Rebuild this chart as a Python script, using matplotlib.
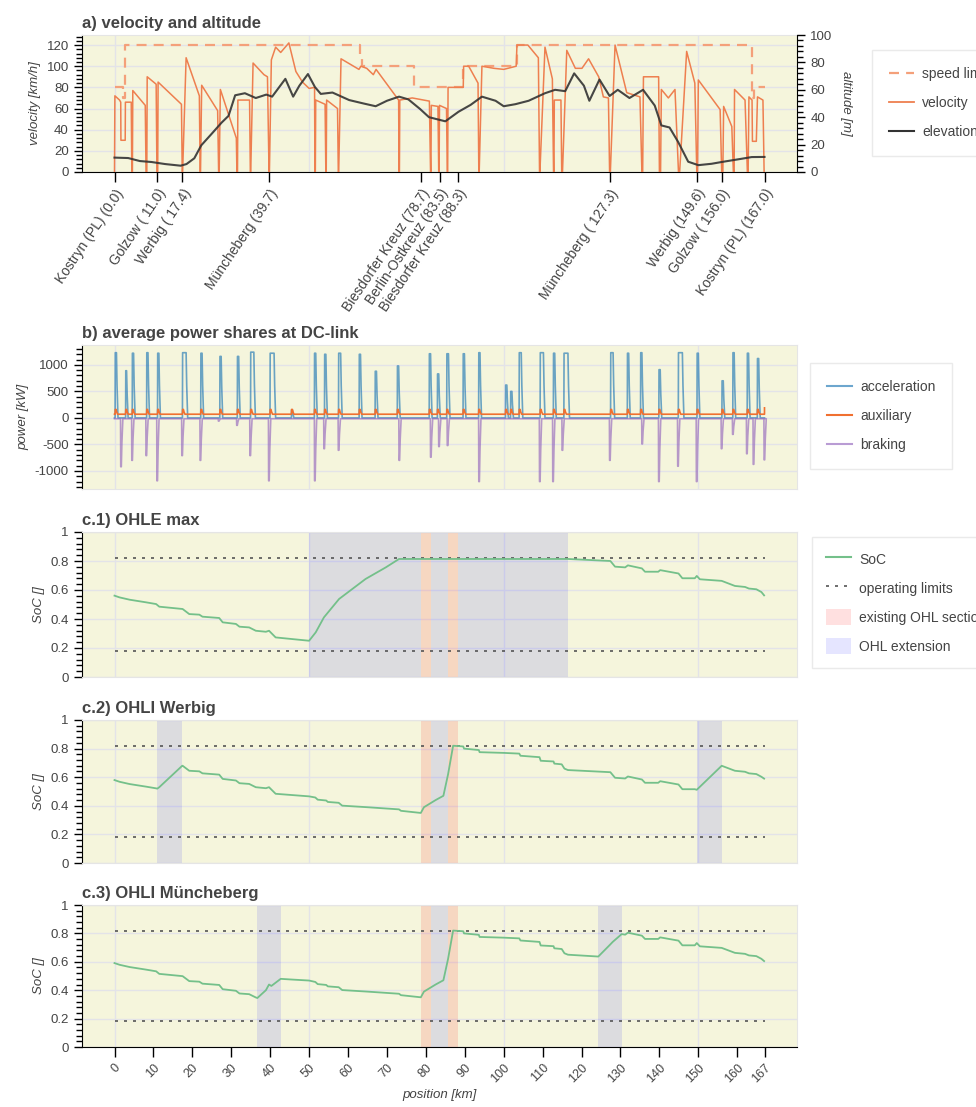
import numpy as np
import matplotlib.pyplot as plt
from matplotlib.ticker import AutoMinorLocator, MultipleLocator, FixedLocator
from matplotlib.patches import Patch
from matplotlib.lines import Line2D

plt.rcParams['font.family'] = ['Liberation Sans', 'DejaVu Sans']
plt.rcParams['axes.unicode_minus'] = False

# ---------------- data ----------------
station_km = [0.0, 11.0, 17.4, 39.7, 78.7, 83.5, 88.3, 127.3, 149.6, 156.0, 167.0]
station_names = ['Kostryn (PL) (0.0)', 'Golzow ( 11.0)', 'Werbig ( 17.4)', 'Müncheberg (39.7)',
                 'Biesdorfer Kreuz (78.7)', 'Berlin-Ostkreuz (83.5)', 'Biesdorfer Kreuz (88.3)',
                 'Müncheberg ( 127.3)', 'Werbig (149.6)', 'Golzow ( 156.0)', 'Kostryn (PL) (167.0)']

speed_limit = [(0, 80), (2.3, 80), (2.3, 70), (2.8, 70), (2.8, 120), (63.2, 120), (63.2, 110),
               (63.6, 110), (63.6, 100), (76.9, 100), (76.9, 80), (89.6, 80), (89.6, 100),
               (103.4, 100), (103.4, 120), (163.8, 120), (163.8, 70), (164.3, 70), (164.3, 80),
               (167, 80)]

velocity = [(0, 0), (0.1, 72), (1.3, 68), (1.6, 66), (1.65, 30), (2.75, 30), (2.8, 66), (4.3, 66), (4.45, 0),
            (4.6, 0), (4.7, 77), (7.9, 63), (8.1, 0),
            (8.3, 0), (8.4, 90), (10.7, 83), (10.9, 0),
            (11.1, 0), (11.2, 85), (17.2, 64), (17.4, 0),
            (17.5, 0), (18.4, 108), (21.8, 72), (22.0, 0),
            (22.1, 0), (22.4, 82), (26.5, 58), (26.75, 0),
            (26.9, 0), (27.2, 78), (31.3, 32), (31.45, 0),
            (31.6, 0), (31.7, 68), (34.7, 68), (34.9, 0),
            (35.0, 0), (35.6, 103), (38.4, 92), (39.3, 90), (39.7, 0),
            (39.8, 0), (40.3, 106), (41.4, 118), (42.7, 113), (44.8, 122), (46.6, 95),
            (48.3, 85), (50.0, 79), (51.4, 80), (51.5, 0),
            (51.6, 0), (51.7, 68), (54.1, 64), (54.3, 0),
            (54.4, 0), (54.5, 68), (57.3, 60), (57.5, 0),
            (57.6, 0), (58.2, 107), (62.8, 97), (63.3, 100), (64.8, 98), (66.5, 92), (67.2, 97),
            (73.0, 68), (73.1, 0),
            (73.2, 0), (73.3, 68), (76.5, 70), (80.9, 67), (81.2, 0),
            (81.3, 0), (81.4, 63), (83.1, 62), (83.3, 0),
            (83.4, 0), (83.5, 63), (85.3, 60), (85.5, 0),
            (85.6, 0), (85.7, 80), (89.6, 80), (89.7, 100), (91.0, 100), (93.4, 84), (93.6, 0),
            (93.7, 0), (94.4, 100), (97.5, 98), (100.0, 97), (103.2, 100), (103.4, 120), (106.2, 120),
            (108.9, 108), (109.2, 0),
            (109.3, 0), (110.6, 118), (112.5, 88), (112.8, 0),
            (112.9, 0), (113.0, 68), (114.7, 68), (114.9, 0),
            (115.1, 0), (116.2, 115), (118.4, 98), (120.1, 98), (121.8, 107), (124.4, 90),
            (125.6, 71), (126.9, 70), (127.2, 0),
            (127.4, 0), (128.6, 120), (131.6, 75), (135.0, 71), (135.5, 0),
            (135.7, 0), (135.9, 90), (139.8, 90), (140.0, 0),
            (140.3, 0), (140.5, 78), (142.3, 70), (144.0, 78), (144.9, 0),
            (145.2, 0), (147.0, 114), (149.1, 84), (149.6, 0),
            (149.8, 0), (150.0, 87), (155.6, 59), (156.0, 0),
            (156.3, 0), (156.5, 62), (158.6, 43), (159.0, 0),
            (159.2, 0), (159.3, 78), (162.0, 68), (162.6, 0),
            (162.8, 0), (163.0, 71), (163.8, 68), (163.9, 29), (164.9, 29), (165.2, 71),
            (166.6, 68), (166.9, 0)]

elevation = [(0, 10.5), (3.5, 10.2), (6.5, 8.0), (9.5, 7.3), (13.0, 5.8), (17.0, 4.6), (18.5, 5.8),
             (20.5, 10.0), (22.3, 19.5), (25.0, 28.0), (27.5, 36.0), (29.3, 41.0), (31.0, 56.0),
             (33.5, 57.5), (36.3, 54.0), (39.0, 56.5), (40.5, 55.0), (43.9, 68.0), (45.9, 55.0),
             (47.5, 63.0), (49.7, 71.5), (51.5, 62.0), (53.0, 57.0), (56.0, 58.0), (60.3, 52.5),
             (64.0, 50.0), (67.1, 48.0), (70.0, 52.0), (73.1, 55.0), (75.5, 53.0), (78.5, 46.0),
             (80.8, 40.0), (85.0, 37.0), (88.4, 44.0), (91.5, 49.0), (94.4, 55.0), (97.9, 52.0),
             (100.0, 48.0), (103.0, 49.5), (106.4, 52.0), (110.6, 57.5), (113.2, 60.0),
             (115.8, 59.0), (118.1, 72.0), (120.6, 63.0), (122.0, 52.0), (124.6, 67.5),
             (127.2, 55.5), (129.3, 60.0), (132.3, 54.0), (135.8, 60.0), (138.8, 48.5),
             (140.5, 34.0), (142.6, 32.5), (144.8, 22.0), (147.4, 7.5), (150.0, 5.0),
             (153.4, 6.0), (156.0, 7.3), (158.6, 8.5), (161.2, 9.7), (163.7, 10.9), (167.0, 11.0)]

# (position km, peak kW, plateau width km)
accel_peaks = [(0.2, 1230, 0.3), (2.9, 890, 0.2), (4.6, 1220, 0.3), (8.3, 1230, 0.3), (11.1, 1220, 0.3),
               (17.5, 1230, 0.9), (22.2, 1220, 0.3), (27.1, 1160, 0.3), (31.6, 1160, 0.3),
               (35.0, 1240, 0.8), (40.0, 1220, 1.0), (45.5, 150, 0.2), (51.4, 1220, 0.3),
               (54.0, 1200, 0.3), (57.6, 1220, 0.5), (62.9, 1200, 0.3), (67.0, 880, 0.3),
               (72.7, 980, 0.3), (80.9, 1210, 0.3), (83.0, 830, 0.3), (85.4, 1210, 0.4),
               (89.6, 1210, 0.3), (93.6, 1230, 0.3), (100.5, 620, 0.3), (101.8, 500, 0.3),
               (104.0, 1230, 0.5), (109.4, 1230, 0.8), (112.8, 1220, 0.3), (115.5, 1220, 1.0),
               (127.5, 1230, 0.6), (131.8, 1220, 0.3), (135.2, 1230, 0.3), (139.9, 910, 0.3),
               (144.9, 1230, 1.0), (149.7, 1220, 0.3), (156.1, 700, 0.3), (158.9, 1230, 0.3),
               (162.6, 1220, 0.3), (165.2, 1120, 0.3)]

brake_peaks = [(1.6, -920), (4.45, -800), (8.1, -710), (10.9, -1185), (17.3, -710), (22.0, -800),
               (26.7, -60), (31.4, -140), (34.8, -710), (39.6, -1185), (51.4, -1185), (53.8, -580),
               (57.5, -610), (73.1, -800), (81.2, -740), (83.3, -540), (85.5, -520), (93.6, -1200),
               (109.2, -1200), (112.6, -1200), (115.0, -610), (127.2, -800), (135.5, -490),
               (139.8, -1200), (144.7, -910), (149.5, -1200), (155.9, -580), (158.8, -310),
               (162.4, -675), (164.1, -875), (166.9, -790)]

aux_base = 70
aux_bump = 160

existing_ohl = [(78.7, 81.3), (85.7, 88.3)]
ohl_ext = {
    'c.1) OHLE max': [(50.0, 78.7), (81.3, 85.7), (88.3, 116.5)],
    'c.2) OHLI Werbig': [(11.0, 17.4), (81.3, 85.7), (149.6, 156.0)],
    'c.3) OHLI Müncheberg': [(36.7, 42.7), (81.3, 85.7), (124.3, 130.3)],
}

soc_max = [(0, 0.561), (1.3, 0.549), (3.9, 0.533), (8.1, 0.515), (10.7, 0.503), (11.5, 0.485),
           (17.5, 0.469), (19.2, 0.434), (21.8, 0.430), (22.6, 0.416), (26.9, 0.407), (27.8, 0.377),
           (31.2, 0.366), (32.1, 0.347), (34.6, 0.342), (36.3, 0.319), (38.9, 0.312), (39.7, 0.319),
           (41.4, 0.273), (50.0, 0.250), (51.7, 0.308), (53.8, 0.411), (57.7, 0.538), (64.5, 0.676),
           (69.7, 0.756), (73.1, 0.814), (116.5, 0.814), (127.4, 0.80), (128.6, 0.761),
           (131.2, 0.756), (131.9, 0.77), (135.5, 0.749), (136.3, 0.726), (139.7, 0.726),
           (140.2, 0.737), (144.9, 0.714), (145.9, 0.681), (149.1, 0.681), (149.6, 0.697),
           (150.4, 0.674), (156.0, 0.663), (159.4, 0.628), (162.0, 0.621), (163.0, 0.61),
           (164.9, 0.605), (166.2, 0.586), (166.9, 0.563)]

soc_werbig = [(0, 0.580), (1.3, 0.568), (3.9, 0.552), (8.1, 0.534), (10.7, 0.522), (11.0, 0.520),
              (11.5, 0.530), (17.4, 0.680), (17.5, 0.680), (19.2, 0.645), (21.8, 0.641), (22.6, 0.627),
              (26.9, 0.618), (27.8, 0.588), (31.2, 0.577), (32.1, 0.558), (34.6, 0.553), (36.3, 0.530),
              (38.9, 0.523), (39.7, 0.530), (41.4, 0.484), (50.0, 0.466), (51.6, 0.458), (52.2, 0.443),
              (54.4, 0.437), (54.8, 0.427), (57.6, 0.421), (58.5, 0.401), (65.0, 0.390), (73.1, 0.375),
              (73.6, 0.365), (78.7, 0.350), (79.5, 0.390), (81.3, 0.420), (82.5, 0.440), (84.5, 0.470),
              (85.7, 0.620), (87.0, 0.820), (89.6, 0.815), (89.8, 0.800), (93.6, 0.790), (93.8, 0.775),
              (100.0, 0.770), (104.0, 0.765), (104.3, 0.750), (109.2, 0.740), (109.5, 0.715),
              (112.8, 0.710), (113.0, 0.695), (114.9, 0.690), (115.6, 0.660), (116.5, 0.650),
              (127.4, 0.635), (128.6, 0.596), (131.2, 0.591), (131.9, 0.605), (135.5, 0.584),
              (136.3, 0.561), (139.7, 0.561), (140.2, 0.572), (144.9, 0.549), (145.9, 0.516),
              (149.1, 0.516), (149.6, 0.512), (156.0, 0.680), (159.4, 0.645), (162.0, 0.638),
              (163.0, 0.627), (164.9, 0.622), (166.2, 0.603), (166.9, 0.590)]

soc_muench = [(0, 0.591), (1.3, 0.579), (3.9, 0.563), (8.1, 0.545), (10.7, 0.533), (11.5, 0.515),
              (17.5, 0.499), (19.2, 0.464), (21.8, 0.460), (22.6, 0.446), (26.9, 0.437), (27.8, 0.407),
              (31.2, 0.396), (32.1, 0.377), (34.6, 0.372), (36.3, 0.349), (36.7, 0.345), (38.9, 0.400),
              (39.7, 0.440), (40.3, 0.430), (42.7, 0.480), (45.0, 0.476), (50.0, 0.468), (51.6, 0.458),
              (52.2, 0.443), (54.4, 0.437), (54.8, 0.427), (57.6, 0.421), (58.5, 0.401), (65.0, 0.390),
              (73.1, 0.375), (73.6, 0.365), (78.7, 0.350), (79.5, 0.390), (81.3, 0.420), (82.5, 0.440),
              (84.5, 0.470), (85.7, 0.620), (87.0, 0.820), (89.6, 0.815), (89.8, 0.800), (93.6, 0.790),
              (93.8, 0.775), (100.0, 0.770), (104.0, 0.765), (104.3, 0.750), (109.2, 0.740),
              (109.5, 0.715), (112.8, 0.710), (113.0, 0.695), (114.9, 0.690), (115.6, 0.660),
              (116.5, 0.650), (124.3, 0.637), (127.3, 0.720), (128.0, 0.740), (130.3, 0.795),
              (131.2, 0.791), (131.9, 0.805), (135.5, 0.784), (136.3, 0.761), (139.7, 0.761),
              (140.2, 0.772), (144.9, 0.749), (145.9, 0.716), (149.1, 0.716), (149.6, 0.732),
              (150.4, 0.709), (156.0, 0.698), (159.4, 0.663), (162.0, 0.656), (163.0, 0.645),
              (164.9, 0.640), (166.2, 0.621), (166.9, 0.605)]

soc_limits = [0.18, 0.82]
pos_ticks = [0, 10, 20, 30, 40, 50, 60, 70, 80, 90, 100, 110, 120, 130, 140, 150, 160, 167]

# ---------------- style ----------------
BG = '#F5F5DC'
GRID = '#E3E3E8'
OUTLINE = '#E5E5E5'
TXT = '#444444'
XMIN, XMAX = -8.35, 175.35
W, H = 976, 1107


def box(top, bottom, left=82, right=797):
    return [left / W, 1 - bottom / H, (right - left) / W, (bottom - top) / H]


def style(ax, title, ylabel):
    ax.set_facecolor(BG)
    for s in ['top', 'right', 'bottom']:
        ax.spines[s].set_color(OUTLINE)
    ax.spines['left'].set_color('black')
    ax.set_xlim(XMIN, XMAX)
    ax.tick_params(axis='y', which='major', length=6, width=1, labelcolor=TXT, labelsize=9.5)
    ax.tick_params(axis='y', which='minor', length=4, width=1)
    ax.tick_params(axis='x', bottom=False, labelbottom=False)
    ax.grid(axis='y', color=GRID, lw=1, zorder=0)
    for g in [0, 50, 100, 150]:
        ax.axvline(g, color=GRID, lw=1, zorder=0.5)
    ax.set_axisbelow(True)
    ax.set_title(title, loc='left', fontsize=12, fontweight='bold', color=TXT, pad=5)
    ax.set_ylabel(ylabel, fontsize=9.5, style='italic', color=TXT)


def spike_line(peaks, base, default_w=0.4):
    x, y = [0.0], [base]
    for p in peaks:
        k, v = p[0], p[1]
        w = p[2] if len(p) > 2 else default_w
        x += [k - 0.05, k, k + w, k + w + 0.15, k + w + 0.4]
        y += [base, v, v, base + 0.5 * (v - base), base]
    x.append(167.0)
    y.append(base)
    return x, y


def legend(handles, labels, left, top, **kw):
    opts = dict(loc='upper left', bbox_to_anchor=(left / W, 1 - top / H), fontsize=10,
                frameon=True, fancybox=False, edgecolor=OUTLINE, borderaxespad=0,
                labelspacing=1.1, borderpad=1.2, handlelength=1.8, handletextpad=0.6,
                labelcolor=TXT)
    opts.update(kw)
    leg = fig.legend(handles, labels, **opts)
    leg.get_frame().set_linewidth(1.0)
    return leg


fig = plt.figure(figsize=(W / 100, H / 100), dpi=100)

# ---------------- a) velocity and altitude ----------------
ax = fig.add_axes(box(35, 172))
style(ax, 'a) velocity and altitude', 'velocity [km/h]')
sl_x, sl_y = zip(*speed_limit)
v_x, v_y = zip(*velocity)
ax.plot(sl_x, sl_y, color='#F4A07A', lw=1.6, dashes=(4.5, 3.2), zorder=2)
ax.plot(v_x, v_y, color='#EE7F4F', lw=1.1, zorder=3)
ax.set_ylim(0, 129.5)
ax.yaxis.set_major_locator(MultipleLocator(20))
ax.yaxis.set_minor_locator(AutoMinorLocator(5))
ax.spines['bottom'].set_color('black')
ax.tick_params(axis='x', bottom=True, labelbottom=True, length=7, width=1,
               labelcolor=TXT, labelsize=10)
ax.set_xticks(station_km)
ax.set_xticklabels(station_names, rotation=56, ha='right', rotation_mode='anchor')
ax.xaxis.set_minor_locator(FixedLocator([]))

ax2 = ax.twinx()
e_x, e_y = zip(*elevation)
ax2.plot(e_x, e_y, color='#333333', lw=1.5, alpha=0.9)
ax2.set_ylim(0, 100)
ax2.yaxis.set_major_locator(MultipleLocator(20))
ax2.yaxis.set_minor_locator(AutoMinorLocator(5))
for s in ['top', 'left', 'bottom']:
    ax2.spines[s].set_visible(False)
ax2.spines['right'].set_color('black')
ax2.tick_params(axis='y', which='major', length=6, width=1, labelcolor=TXT, labelsize=9.5)
ax2.tick_params(axis='y', which='minor', length=4, width=1)
ax2.set_ylabel('altitude [m]', fontsize=9.5, style='italic', color=TXT, rotation=270, labelpad=14)

leg_a = [Line2D([], [], color='#F4A07A', lw=1.6, dashes=(4.5, 3.2)),
         Line2D([], [], color='#EE7F4F', lw=1.3),
         Line2D([], [], color='#333333', lw=1.5)]
legend(leg_a, ['speed limit', 'velocity', 'elevation'], 872, 50)

# ---------------- b) power ----------------
bx = fig.add_axes(box(345, 489))
style(bx, 'b) average power shares at DC-link', 'power [kW]')
acc_x, acc_y = spike_line(accel_peaks, 0.0)
br_x, br_y = spike_line(brake_peaks, -15.0, 0.15)
aux_x, aux_y = spike_line([(k, aux_bump, 0.2) for k, _, _ in accel_peaks], aux_base)
aux_x.append(167.0)
aux_y.append(190)
bx.plot(acc_x, acc_y, color='#1f77b4', lw=1.2, alpha=0.65, zorder=3)
bx.plot(aux_x, aux_y, color='#F07030', lw=1.2, zorder=4)
bx.plot(br_x, br_y, color='#9467bd', lw=1.2, alpha=0.65, zorder=3)
bx.set_ylim(-1340, 1375)
bx.yaxis.set_major_locator(MultipleLocator(500))
bx.yaxis.set_minor_locator(AutoMinorLocator(5))
leg_b = [Line2D([], [], color='#1f77b4', alpha=0.65, lw=1.5),
         Line2D([], [], color='#F07030', lw=1.5),
         Line2D([], [], color='#9467bd', alpha=0.65, lw=1.5)]
legend(leg_b, ['acceleration', 'auxiliary', 'braking'], 810, 363)

# ---------------- c) SoC ----------------
soc_sets = [soc_max, soc_werbig, soc_muench]
spans = [(532, 677), (720, 863), (905, 1047)]
for (title, ext), soc, (top, bot) in zip(ohl_ext.items(), soc_sets, spans):
    cx = fig.add_axes(box(top, bot))
    style(cx, title, 'SoC []')
    for a, b in ext:
        cx.axvspan(a, b, color='blue', alpha=0.1, lw=0, zorder=1)
    for a, b in existing_ohl:
        cx.axvspan(a, b, color='red', alpha=0.12, lw=0, zorder=1)
    for lim in soc_limits:
        cx.plot([0, 167], [lim, lim], color='#555555', lw=1.2, dashes=(1.8, 3.6), zorder=2)
    s_x, s_y = zip(*soc)
    cx.plot(s_x, s_y, color='#74C08A', lw=1.3, zorder=3)
    cx.set_ylim(0, 1)
    cx.yaxis.set_major_locator(FixedLocator([0, 0.2, 0.4, 0.6, 0.8, 1.0]))
    cx.set_yticklabels(['0', '0.2', '0.4', '0.6', '0.8', '1'])
    cx.yaxis.set_minor_locator(AutoMinorLocator(5))

cx.spines['bottom'].set_color('black')
cx.tick_params(axis='x', bottom=True, labelbottom=True, length=7, width=1,
               labelcolor=TXT, labelsize=9)
cx.set_xticks(pos_ticks)
cx.set_xticklabels([str(t) for t in pos_ticks], rotation=45, ha='right', rotation_mode='anchor')
cx.set_xlabel('position [km]', fontsize=9.5, style='italic', color=TXT, labelpad=3)

leg_c = [Line2D([], [], color='#74C08A', lw=1.5),
         Line2D([], [], color='#555555', lw=1.2, dashes=(1.8, 3.6)),
         Patch(facecolor='red', alpha=0.12, lw=0),
         Patch(facecolor='blue', alpha=0.1, lw=0)]
legend(leg_c, ['SoC', 'operating limits', 'existing OHL section', 'OHL extension'], 812, 537,
       labelspacing=0.9, borderpad=1.0, handleheight=1.45)

fig.savefig('out.png', dpi=100, facecolor='white')
